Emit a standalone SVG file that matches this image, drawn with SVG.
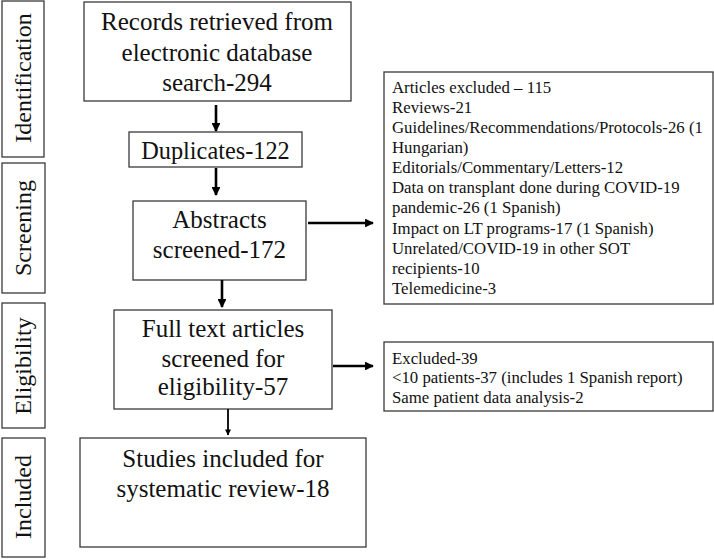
<svg xmlns="http://www.w3.org/2000/svg" width="714" height="559" viewBox="0 0 714 559">
<style>
.box{fill:#fff;stroke:#3a3a3a;stroke-width:1.3}
.t{font-family:"Liberation Serif","Times New Roman",serif;fill:#111}
.big{font-size:25px}
.mid{font-size:25px}
.dup{font-size:24.3px}
.sm{font-size:16.8px}
.side{font-size:24px}
.arr{stroke:#000;stroke-width:2.6;fill:none;marker-end:url(#ah)}
</style>
<defs>
<marker id="ah" viewBox="0 0 10 10" refX="9" refY="5" markerWidth="3.4" markerHeight="3.4" orient="auto" markerUnits="strokeWidth">
<path d="M0,0 L10,5 L0,10 z" fill="#000"/>
</marker>
</defs>
<rect width="714" height="559" fill="#fff"/>
<g id="stage-identification">
<rect class="box" x="2" y="1" width="42" height="156"/>
<text class="t side" transform="translate(31,78) rotate(-90)" text-anchor="middle">Identification</text>
</g>
<g id="stage-screening">
<rect class="box" x="2" y="163" width="43" height="130"/>
<text class="t side" transform="translate(31,228) rotate(-90)" text-anchor="middle">Screening</text>
</g>
<g id="stage-eligibility">
<rect class="box" x="2" y="303" width="43" height="125"/>
<text class="t side" transform="translate(31,366) rotate(-90)" text-anchor="middle">Eligibility</text>
</g>
<g id="stage-included">
<rect class="box" x="2" y="438" width="43" height="119"/>
<text class="t side" transform="translate(31,497) rotate(-90)" text-anchor="middle">Included</text>
</g>
<g id="records">
<rect class="box" x="84" y="2" width="267" height="99"/>
<text class="t big" x="217" y="30" text-anchor="middle">Records retrieved from</text>
<text class="t big" x="217" y="61" text-anchor="middle">electronic database</text>
<text class="t big" x="217" y="91" text-anchor="middle">search-294</text>
</g>
<g id="duplicates">
<rect class="box" x="129" y="132" width="173" height="35"/>
<text class="t dup" x="215.5" y="159" text-anchor="middle">Duplicates-122</text>
</g>
<g id="abstracts">
<rect class="box" x="133" y="201" width="173" height="79"/>
<text class="t mid" x="219.5" y="228" text-anchor="middle">Abstracts</text>
<text class="t mid" x="219.5" y="258" text-anchor="middle">screened-172</text>
</g>
<g id="fulltext">
<rect class="box" x="114" y="310" width="218" height="99"/>
<text class="t mid" x="223" y="337" text-anchor="middle">Full text articles</text>
<text class="t mid" x="223" y="367" text-anchor="middle">screened for</text>
<text class="t mid" x="223" y="395" text-anchor="middle">eligibility-57</text>
</g>
<g id="included">
<rect class="box" x="80" y="438" width="286" height="109"/>
<text class="t mid" x="223" y="467" text-anchor="middle">Studies included for</text>
<text class="t mid" x="223" y="497" text-anchor="middle">systematic review-18</text>
</g>
<g id="excluded-abstracts">
<rect class="box" x="384" y="72" width="329" height="232"/>
<text class="t sm" x="392" y="93">Articles excluded – 115</text>
<text class="t sm" x="392" y="113">Reviews-21</text>
<text class="t sm" x="392" y="133">Guidelines/Recommendations/Protocols-26 (1</text>
<text class="t sm" x="392" y="153">Hungarian)</text>
<text class="t sm" x="392" y="173">Editorials/Commentary/Letters-12</text>
<text class="t sm" x="392" y="193">Data on transplant done during COVID-19</text>
<text class="t sm" x="392" y="213">pandemic-26 (1 Spanish)</text>
<text class="t sm" x="392" y="234">Impact on LT programs-17 (1 Spanish)</text>
<text class="t sm" x="392" y="254">Unrelated/COVID-19 in other SOT</text>
<text class="t sm" x="392" y="274">recipients-10</text>
<text class="t sm" x="392" y="294">Telemedicine-3</text>
</g>
<g id="excluded-fulltext">
<rect class="box" x="384" y="342" width="329" height="69"/>
<text class="t sm" x="392" y="364">Excluded-39</text>
<text class="t sm" x="392" y="383">&lt;10 patients-37 (includes 1 Spanish report)</text>
<text class="t sm" x="392" y="403">Same patient data analysis-2</text>
</g>
<g id="connectors">
<line class="arr" x1="216" y1="105" x2="216" y2="131"/>
<line class="arr" x1="216" y1="168" x2="216" y2="195"/>
<line class="arr" x1="222" y1="280" x2="222" y2="307"/>
<line class="arr" x1="228" y1="409" x2="228" y2="435" style="stroke-width:1.8"/>
<line class="arr" x1="308" y1="223" x2="373" y2="223"/>
<line class="arr" x1="333" y1="366" x2="373" y2="366"/>
</g>
</svg>
